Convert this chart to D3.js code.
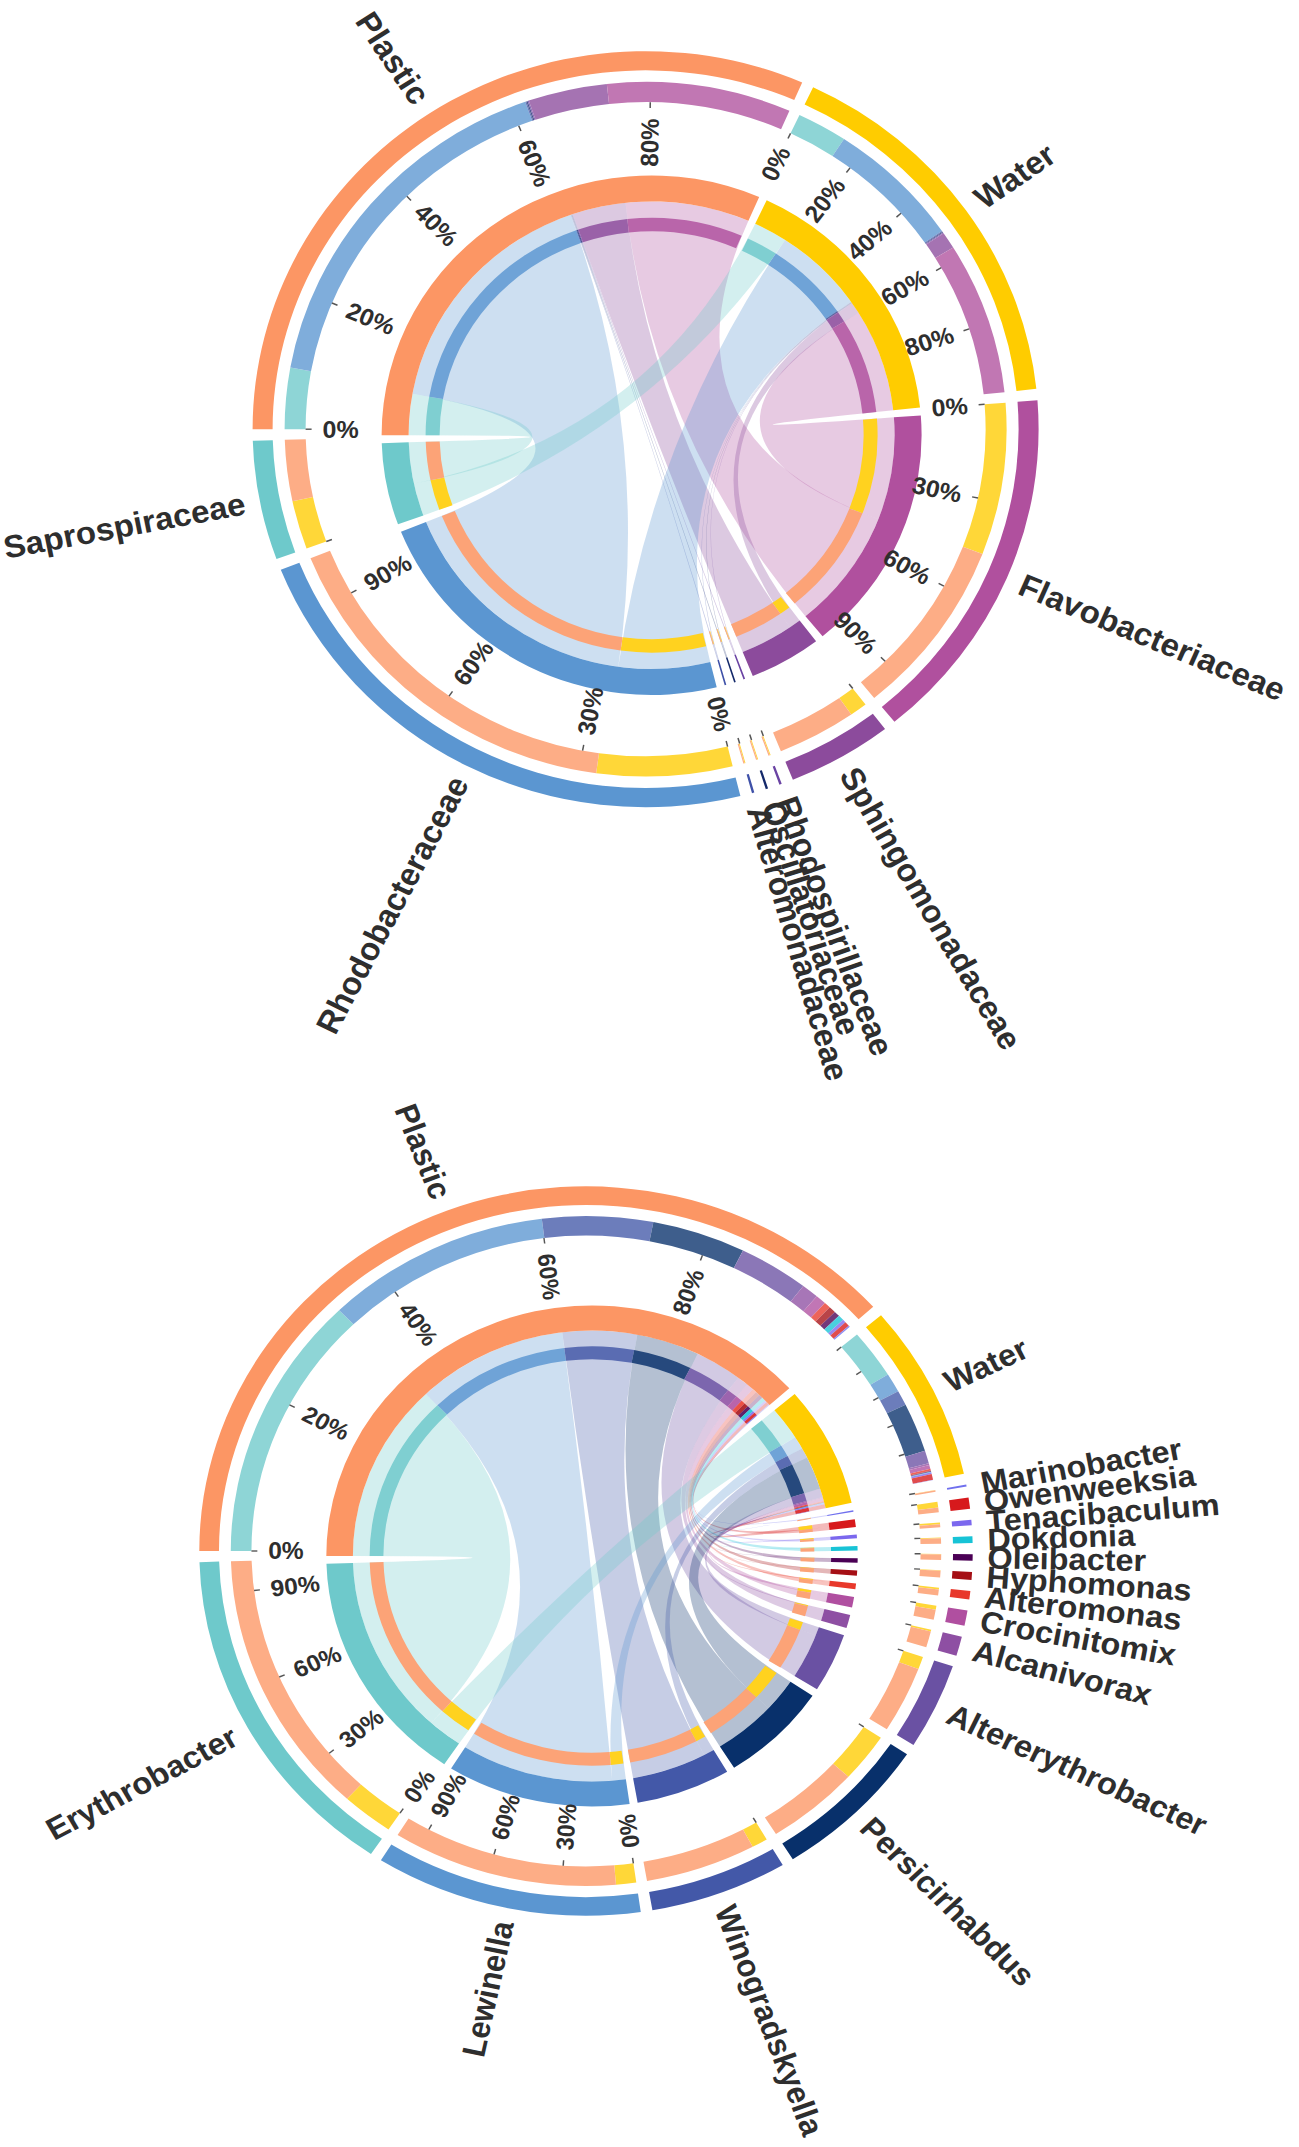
<!DOCTYPE html>
<html>
<head>
<meta charset="utf-8">
<script src="https://cdn.jsdelivr.net/npm/d3@7"></script>
<style>
  html, body { margin: 0; padding: 0; background: #fff; }
  svg { display: block; }
  text { font-family: "Liberation Sans", Arial, sans-serif; font-weight: bold; fill: #2e2e2e; }
</style>
</head>
<body>
<svg id="chart" width="1299" height="2147"></svg>
<script>
// Samples (shared by both diagrams)
const samples = ['Plastic', 'Water']
const sampleColors = ['#fc9664', '#ffcc00']

// Top diagram: families, clockwise after Water
const familyNames = ['Flavobacteriaceae', 'Sphingomonadaceae', 'Rhodospirillaceae', 'Oscillatoriaceae',
  'Alteromonadaceae', 'Rhodobacteraceae', 'Saprospiraceae']
const familyColors = ['#b0509e', '#8c4b9c', '#6a43a3', '#14296a', '#3f51a8', '#5b96d1', '#6ec9cb']
const familyPlastic = [29.6, 12.7, 0.2, 0.2, 0.2, 60.2, 10.2]
const familyWater = [25.4, 2.8, 0.15, 0.15, 0.15, 21.8, 8.1]

// Bottom diagram: genera, clockwise after Water
const genusNames = ['Marinobacter', 'Owenweeksia', 'Tenacibaculum', 'Dokdonia', 'Oleibacter', 'Hyphomonas',
  'Alteromonas', 'Crocinitomix', 'Alcanivorax', 'Altererythrobacter', 'Persicirhabdus', 'Winogradskyella',
  'Lewinella', 'Erythrobacter']
const genusColors = ['#7070ee', '#d7191c', '#7b68ee', '#17c3d6', '#4b0055', '#a50f15', '#e8382b',
  '#b04fa0', '#8e4fa3', '#6a51a3', '#08306b', '#4358a8', '#5b96d1', '#6ec9cb']
const genusPlastic = [0.25, 0.8, 0.55, 0.95, 0.95, 1.15, 1.05, 1.75, 2.8, 11.5, 15.3, 18.1, 36.9, 46]
const genusWater = [0.05, 1.0, 0.3, 0.1, 0.1, 0.1, 0.3, 0.7, 0.3, 2.2, 8.5, 2.6, 3.3, 8.5]

const svg = d3.select('#chart')
const deg = Math.PI / 180
const gap = 1.75 * deg

// radii at scale 1
const R = {
  thinIn: 212, thinOut: 226, chord: 243, ringIn: 243, ringOut: 270,
  tickIn: 334, trackIn: 340, trackOut: 361, outerIn: 373, outerOut: 393,
  tickLabel: 323, nodeLabel: 408
}

function lighten(c, t) { return d3.interpolateRgb(c, '#fff')(t) }

// Lay out nodes, their stacked parts and the chords between them
function layout(names, colors, matrix) {
  const sampleTot = matrix.map(row => d3.sum(row))
  const taxonTot = names.map((n, j) => d3.sum(matrix, row => row[j]))
  const k = (2 * Math.PI - (samples.length + names.length) * gap) / (d3.sum(sampleTot) + d3.sum(taxonTot))
  const nodes = [], chords = []
  const sampleParts = matrix.map(() => [])
  let a = 270 * deg

  samples.forEach((name, i) => {
    const node = { name, color: sampleColors[i], isSample: true, start: a, parts: [] }
    for (let j = names.length - 1; j >= 0; j--) {
      const w = matrix[i][j] * k
      node.parts.push({ startAngle: a, endAngle: a + w, color: colors[j] })
      sampleParts[i][j] = { startAngle: a, endAngle: a + w }
      a += w
    }
    node.end = a
    nodes.push(node)
    a += gap
  })

  names.forEach((name, j) => {
    const node = { name, color: colors[j], isSample: false, start: a, parts: [] }
    for (let i = samples.length - 1; i >= 0; i--) {
      const w = matrix[i][j] * k
      node.parts.push({ startAngle: a, endAngle: a + w, color: sampleColors[i] })
      chords.push({ source: sampleParts[i][j], target: { startAngle: a, endAngle: a + w }, color: colors[j] })
      a += w
    }
    node.end = a
    nodes.push(node)
    a += gap
  })
  return { nodes, chords }
}

function ticksFor(node) {
  const step = node.isSample ? 20 : 30
  const span = (node.end - node.start) / deg
  const roomy = step / 100 * span >= 8
  const out = []
  for (let p = 0; p < 100; p += step) {
    if (p > 0 && !node.isSample && !roomy) break
    out.push({ angle: node.start + p / 100 * (node.end - node.start), label: roomy ? p + '%' : null })
  }
  return out
}

// radial text: reads outward on the right, flipped on the left
function placeText(sel, angle, r, outward) {
  const a = ((angle / deg) % 360 + 360) % 360
  const flip = a >= 170
  sel.attr('transform', `rotate(${a - 90}) translate(${r},0)` + (flip ? ' rotate(180)' : ''))
    .attr('text-anchor', outward ? (flip ? 'end' : 'start') : (flip ? 'start' : 'end'))
    .attr('dominant-baseline', 'central')
}

function drawChart(o) {
  const L = layout(o.names, o.colors, [o.plastic, o.water])
  const inner = svg.append('g')
    .attr('transform', `translate(${o.cx},${o.cy}) scale(${o.s},${o.s * o.fy})`)
  const outer = svg.append('g')
    .attr('transform', `translate(${o.cx + o.dx},${o.cy + o.dy}) scale(${o.s},${o.s * o.fy})`)

  // chords
  inner.append('g').selectAll('path').data(L.chords).join('path')
    .attr('d', d3.ribbon().radius(R.chord))
    .attr('fill', d => d.color)
    .attr('fill-opacity', 0.3)

  const parts = L.nodes.flatMap(n => n.parts)
  const thinArc = d3.arc().innerRadius(R.thinIn).outerRadius(R.thinOut)
  inner.append('g').selectAll('path').data(parts).join('path')
    .attr('d', thinArc)
    .attr('fill', d => lighten(d.color, 0.12))

  const ringArc = d3.arc().innerRadius(R.ringIn).outerRadius(R.ringOut)
    .startAngle(d => d.start).endAngle(d => d.end)
  inner.append('g').selectAll('path').data(L.nodes).join('path')
    .attr('d', ringArc)
    .attr('fill', d => d.color)

  // outer layer: stacked track, node ring, ticks and labels
  const trackArc = d3.arc().innerRadius(R.trackIn).outerRadius(R.trackOut)
  outer.append('g').selectAll('path').data(parts).join('path')
    .attr('d', trackArc)
    .attr('fill', d => lighten(d.color, 0.22))

  const outerArc = d3.arc().innerRadius(R.outerIn).outerRadius(R.outerOut)
    .startAngle(d => d.start).endAngle(d => d.end)
  outer.append('g').selectAll('path').data(L.nodes).join('path')
    .attr('d', outerArc)
    .attr('fill', d => d.color)

  const ticks = L.nodes.flatMap(ticksFor)
  outer.append('g').selectAll('line').data(ticks).join('line')
    .attr('x1', d => Math.sin(d.angle) * R.tickIn)
    .attr('y1', d => -Math.cos(d.angle) * R.tickIn)
    .attr('x2', d => Math.sin(d.angle) * R.trackIn)
    .attr('y2', d => -Math.cos(d.angle) * R.trackIn)
    .attr('stroke', '#555')
    .attr('stroke-width', 1.5)

  outer.append('g').selectAll('text').data(ticks.filter(d => d.label)).join('text')
    .style('font-size', '25px')
    .text(d => d.label)
    .each(function (d) { placeText(d3.select(this), d.angle, R.tickLabel, false) })

  outer.append('g').selectAll('text').data(L.nodes).join('text')
    .style('font-size', '33px')
    .text(d => d.name)
    .each(function (d) { placeText(d3.select(this), (d.start + d.end) / 2, R.nodeLabel, true) })
}

drawChart({ cx: 651.6, cy: 435.2, s: 1, fy: 0.962, dx: -6, dy: -6,
  names: familyNames, colors: familyColors, plastic: familyPlastic, water: familyWater })

drawChart({ cx: 592, cy: 1556, s: 0.984, fy: 0.943, dx: -6, dy: -5,
  names: genusNames, colors: genusColors, plastic: genusPlastic, water: genusWater })
</script>
</body>
</html>
